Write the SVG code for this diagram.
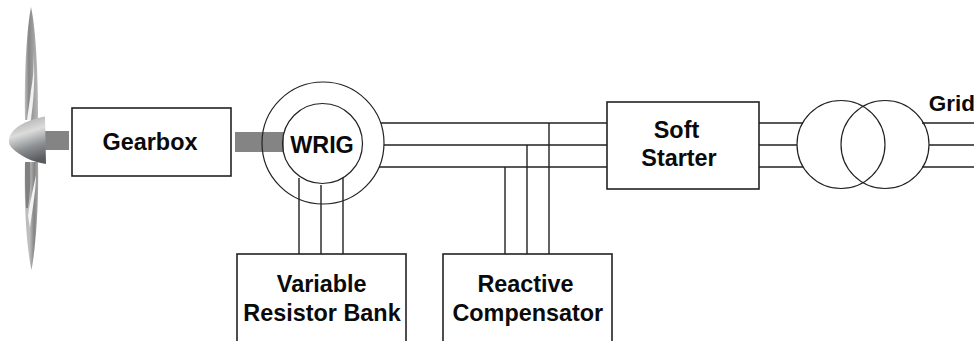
<svg xmlns="http://www.w3.org/2000/svg" width="978" height="341" viewBox="0 0 978 341">
<style>
.b{fill:#fff;stroke:#222;stroke-width:1.6}
.c{fill:none;stroke:#222;stroke-width:1.2}
.l{stroke:#222;stroke-width:1.4;fill:none}
.s{fill:#848484}
text{font-family:"Liberation Sans",Arial,sans-serif;font-weight:bold;font-size:23.4px;fill:#0a0a0a;text-anchor:middle}
</style>
<defs>
<linearGradient id="blade" x1="0" x2="1" y1="0" y2="0">
<stop offset="0" stop-color="#c0c0c0"/><stop offset=".3" stop-color="#868686"/><stop offset=".6" stop-color="#9c9c9c"/><stop offset="1" stop-color="#b8b8b8"/>
</linearGradient>
<linearGradient id="blade2" x1="0" x2="1" y1="0" y2="0">
<stop offset="0" stop-color="#b8b8b8"/><stop offset=".35" stop-color="#c0c0c0"/><stop offset=".7" stop-color="#848484"/><stop offset="1" stop-color="#a8a8a8"/>
</linearGradient>
<linearGradient id="hub" x1="0.2" x2="0.45" y1="0" y2="1">
<stop offset="0" stop-color="#a4a4a4"/><stop offset=".38" stop-color="#dcdcdc"/><stop offset=".7" stop-color="#8c9092"/><stop offset="1" stop-color="#585c5e"/>
</linearGradient>
<filter id="soft" x="-50%" y="-10%" width="200%" height="120%"><feGaussianBlur stdDeviation="0.7"/></filter>
</defs>
<g id="turbine">
<path d="M31 7C27 28 24 70 25 120L38 120C38 75 36 30 31 7Z" fill="url(#blade)" filter="url(#soft)"/>
<path d="M33 50C34 62 34 74 31 90C30 100 28 112 27 120L31 120C33 105 36 78 33 50Z" fill="#f2f2f2" filter="url(#soft)"/>
<path d="M25 162C24 200 26 245 31.500 270C36 245 39 200 38 162Z" fill="url(#blade2)" filter="url(#soft)"/>
<path d="M25 162H30C31 180 30 195 28 208L26 208C25 190 25 175 25 162Z" fill="#808080" filter="url(#soft)"/>
<path d="M36 175C36 190 33 205 30 228L28 216C30 202 33 190 36 175Z" fill="#f4f4f4" filter="url(#soft)"/>
<rect class="s" x="45" y="131" width="24" height="19"/>
<path d="M45 116.500C30 119 14 126 10 136C8 141 9 145 12 148C20 156 32 162 46 164Z" fill="url(#hub)"/>
</g>
<g id="connectors">
<rect class="s" x="235" y="132" width="49" height="20"/>
<path class="l" d="M381 123H607M384 145H607M379 167H607M759 123H803M759 145H797M759 167H803M922 123H974M929 145H974M922 167H974M299 178V254M321 185V254M343 178V254M505 167V254M527 145V254M549 123V254"/>
</g>
<g id="wrig">
<circle class="c" cx="323" cy="143" r="61"/>
<circle class="c" cx="322.500" cy="143.500" r="40"/>
<text x="322" y="153">WRIG</text>
</g>
<g id="gearbox"><rect class="b" x="72" y="108" width="159" height="68"/><text x="150" y="150">Gearbox</text></g>
<g id="soft-starter"><rect class="b" x="607" y="102" width="152" height="87"/><text x="676.500" y="138">Soft</text><text x="679" y="166">Starter</text></g>
<g id="transformer"><circle class="c" cx="841" cy="144.500" r="44"/><circle class="c" cx="885" cy="144.500" r="44"/></g>
<g id="variable-resistor-bank"><rect class="b" x="237" y="254" width="169" height="89"/><text x="321.700" y="292">Variable</text><text x="322" y="321">Resistor Bank</text></g>
<g id="reactive-compensator"><rect class="b" x="443" y="254" width="169" height="89"/><text x="525.500" y="292">Reactive</text><text x="527.800" y="321">Compensator</text></g>
<text x="952" y="111" style="font-size:22.500px">Grid</text>
</svg>
